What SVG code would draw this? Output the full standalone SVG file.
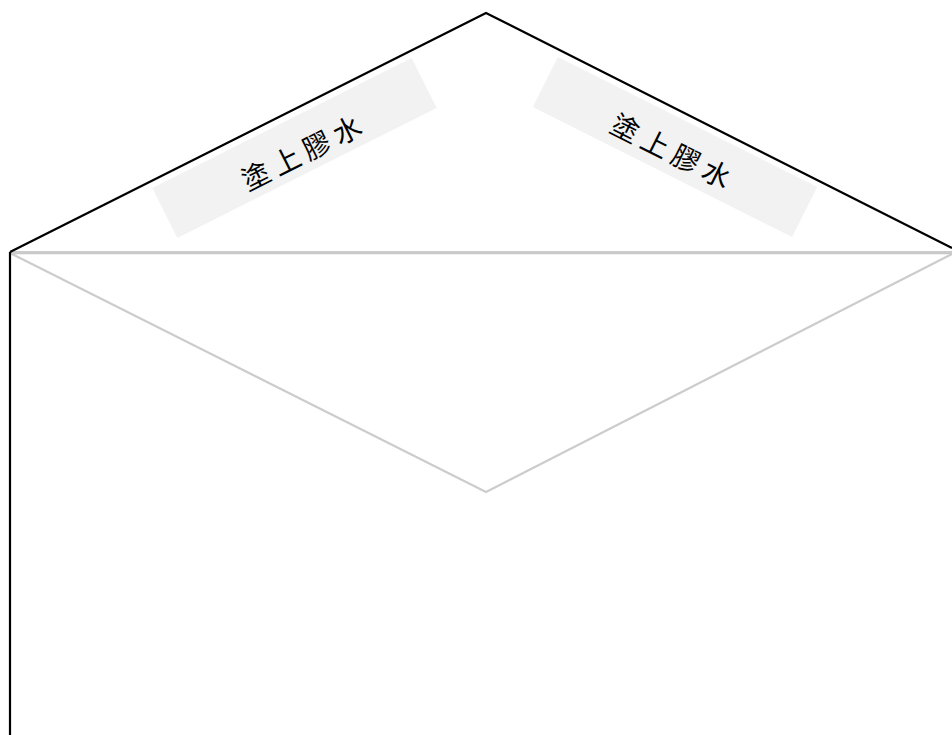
<svg xmlns="http://www.w3.org/2000/svg" width="952" height="735" viewBox="0 0 952 735">
<style>
.glue{fill:#f2f2f2;}
.lbl{font-family:"Noto Sans CJK TC","Noto Sans CJK SC",sans-serif;font-size:28px;fill:#000;text-anchor:middle;letter-spacing:6px;}
.edge{fill:none;stroke:#000;stroke-width:2.2;}
.fold{fill:none;stroke:#cccccc;stroke-width:2.2;}
</style>
<rect width="952" height="735" fill="#fff"/>
<g id="glue-left" transform="translate(294.5,148) rotate(-26.6)">
<rect class="glue" x="-145" y="-28" width="290" height="56"/>
<text class="lbl" x="7" y="18">塗上膠水</text>
</g>
<g id="glue-right" transform="translate(675,147) rotate(26.6)">
<rect class="glue" x="-145" y="-28" width="290" height="56"/>
<text class="lbl" x="1" y="16">塗上膠水</text>
</g>
<g id="connectors">
<polyline class="fold" points="10,253 486,492 952,254"/>
<line x1="10" y1="252" x2="952" y2="252" stroke="#999" stroke-width="1"/>
<line x1="10" y1="253.5" x2="952" y2="253.5" stroke="#c8c8c8" stroke-width="1.5"/>
<polyline class="edge" points="10,252 486,13 952,248"/>
<line class="edge" x1="10" y1="252" x2="10" y2="735"/>
</g>
</svg>
